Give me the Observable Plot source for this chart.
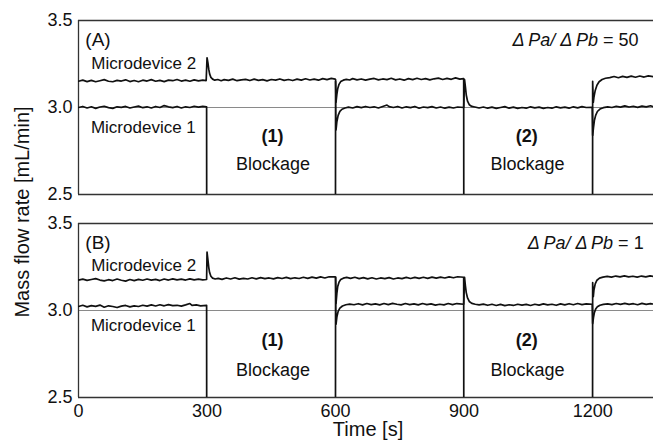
<!DOCTYPE html>
<html>
<head>
<meta charset="utf-8">
<script src="https://cdn.jsdelivr.net/npm/d3@7"></script>
<script src="https://cdn.jsdelivr.net/npm/@observablehq/plot@0.6"></script>
<style>
  html, body { margin: 0; padding: 0; background: #fff; }
  #chart { width: 653px; height: 447px; }
</style>
</head>
<body>
<div id="chart"></div>
<script>
// ---- data (time [s], mass flow rate [mL/min]); 0 = blocked (no flow, clipped at axis) ----
const panels = ["A", "B"];
const panelTags = ["(A)", "(B)"];
const ratioLabels = ["Δ\u2009Pa/ Δ\u2009Pb = 50", "Δ\u2009Pa/ Δ\u2009Pb = 1"];
const deviceNames = ["Microdevice 1", "Microdevice 2"];
const blockTags = ["(1)", "(2)"];
const blockWord = "Blockage";
const xTicks = [0, 300, 600, 900, 1200];
const yTicks = [2.5, 3.0, 3.5];
const gridValue = [3.0];

// Panel A, Microdevice 2
const a2 = [[0,3.151],[10,3.157],[20,3.149],[30,3.156],[40,3.148],[50,3.154],[60,3.160],[70,3.151],[80,3.148],[90,3.156],[100,3.152],[110,3.159],[120,3.149],[130,3.155],[140,3.148],[150,3.157],[160,3.152],[170,3.160],[180,3.151],[190,3.156],[200,3.149],[210,3.157],[220,3.154],[230,3.161],[240,3.152],[250,3.157],[260,3.151],[270,3.159],[280,3.153],[290,3.157],[298,3.155],
[300,3.286],[302,3.258],[304,3.220],[306,3.193],[309,3.173],[313,3.163],[318,3.157],
[325,3.161],[333,3.154],[340,3.160],[350,3.156],[360,3.163],[370,3.154],[380,3.159],[390,3.162],[400,3.155],[410,3.163],[420,3.156],[430,3.160],[440,3.153],[450,3.161],[460,3.157],[470,3.164],[480,3.156],[490,3.161],[500,3.155],[510,3.163],[520,3.157],[530,3.165],[540,3.158],[550,3.163],[560,3.157],[570,3.166],[580,3.160],[590,3.167],[599,3.163],
[600,3.160],[601,3.030],[603,3.075],[605,3.108],[608,3.133],[612,3.149],[618,3.157],
[625,3.162],[633,3.158],[640,3.166],[650,3.159],[660,3.164],[670,3.157],[680,3.163],[690,3.167],[700,3.159],[710,3.164],[720,3.160],[730,3.168],[740,3.159],[750,3.164],[760,3.157],[770,3.166],[780,3.160],[790,3.168],[800,3.161],[810,3.166],[820,3.159],[830,3.165],[840,3.169],[850,3.161],[860,3.167],[870,3.162],[880,3.170],[890,3.163],[899,3.166],
[900,0],[1199,0],
[1200,3.150],[1201.5,3.030],[1203,3.060],[1206,3.098],[1210,3.128],[1215,3.148],[1222,3.161],[1230,3.168],
[1240,3.172],[1250,3.178],[1260,3.171],[1270,3.179],[1280,3.173],[1290,3.180],[1300,3.174],[1310,3.181],[1320,3.175],[1330,3.182],[1342,3.177]];

// Panel A, Microdevice 1
const a1 = [[0,3.000],[10,3.006],[20,2.997],[30,3.004],[40,2.995],[50,3.003],[60,3.007],[70,2.999],[80,2.995],[90,3.004],[100,3.001],[110,3.006],[120,2.997],[130,3.003],[140,3.008],[150,2.999],[160,3.004],[170,2.997],[180,3.006],[190,3.000],[200,3.011],[210,3.004],[220,2.999],[230,3.006],[240,2.997],[250,3.004],[260,3.000],[270,3.007],[280,3.002],[290,3.006],[299,3.004],
[300,0],[599,0],
[600,3.150],[601,2.870],[603,2.918],[606,2.955],[610,2.978],[615,2.990],[622,2.997],
[630,3.002],[640,2.997],[650,3.005],[660,2.999],[670,3.006],[680,3.000],[690,3.004],[700,2.997],[710,3.006],[720,3.014],[725,3.005],[735,3.000],[745,3.006],[755,2.997],[765,3.004],[775,2.999],[785,3.006],[795,2.996],[805,3.003],[815,2.999],[825,3.005],[835,2.997],[845,3.003],[855,2.996],[865,3.002],[875,2.997],[885,3.003],[899,3.000],
[901,3.160],[903,3.118],[905,3.072],[908,3.036],[912,3.016],[918,3.006],
[925,3.003],[935,2.997],[945,3.003],[955,2.996],[965,3.002],[975,2.995],[985,3.000],[995,3.005],[1005,2.996],[1015,3.002],[1025,2.995],[1035,3.000],[1045,2.996],[1055,3.004],[1065,2.998],[1075,3.002],[1085,2.995],[1095,3.000],[1105,2.996],[1115,3.004],[1125,2.998],[1135,3.002],[1145,2.996],[1155,3.004],[1165,2.998],[1175,3.005],[1185,3.000],[1199,3.001],
[1200,2.840],[1202,2.885],[1204,2.925],[1207,2.955],[1211,2.977],[1217,2.991],[1225,2.999],
[1235,3.004],[1245,3.000],[1255,3.007],[1265,3.002],[1275,3.009],[1285,3.003],[1295,3.007],[1305,3.001],[1315,3.008],[1325,3.004],[1335,3.010],[1342,3.004]];

// Panel B, Microdevice 2
const b2 = [[0,3.175],[10,3.180],[20,3.173],[30,3.178],[40,3.183],[50,3.175],[60,3.170],[70,3.177],[80,3.172],[90,3.181],[100,3.174],[110,3.169],[120,3.178],[130,3.172],[140,3.179],[150,3.174],[160,3.181],[170,3.175],[180,3.179],[190,3.172],[200,3.181],[210,3.175],[220,3.182],[230,3.176],[240,3.180],[250,3.175],[260,3.182],[270,3.176],[280,3.180],[290,3.176],[299,3.178],
[300,3.335],[302,3.292],[304,3.248],[306,3.218],[309,3.197],[313,3.186],[319,3.181],
[326,3.185],[335,3.179],[345,3.187],[355,3.181],[365,3.188],[375,3.180],[385,3.185],[395,3.181],[405,3.188],[415,3.182],[425,3.189],[435,3.183],[445,3.187],[455,3.182],[465,3.189],[475,3.184],[485,3.190],[495,3.183],[505,3.188],[515,3.184],[525,3.191],[535,3.185],[545,3.192],[555,3.186],[565,3.193],[575,3.187],[585,3.194],[599,3.193],
[600,3.192],[601,3.040],[603,3.098],[605,3.138],[608,3.163],[612,3.178],[618,3.186],
[626,3.190],[635,3.185],[645,3.191],[655,3.183],[665,3.189],[675,3.182],[685,3.188],[695,3.181],[705,3.187],[715,3.183],[725,3.189],[735,3.181],[745,3.187],[755,3.183],[765,3.190],[775,3.184],[785,3.190],[795,3.185],[805,3.191],[815,3.185],[825,3.192],[835,3.186],[845,3.192],[855,3.187],[865,3.193],[875,3.188],[885,3.194],[899,3.191],
[900,0],[1199,0],
[1200,3.160],[1201.5,3.080],[1203,3.118],[1206,3.153],[1210,3.174],[1216,3.186],[1224,3.192],
[1234,3.196],[1244,3.192],[1254,3.198],[1264,3.193],[1274,3.199],[1284,3.193],[1294,3.197],[1304,3.192],[1314,3.198],[1324,3.193],[1334,3.199],[1342,3.195]];

// Panel B, Microdevice 1
const b1 = [[0,3.023],[10,3.030],[20,3.021],[30,3.028],[40,3.024],[50,3.031],[60,3.019],[70,3.027],[80,3.023],[90,3.017],[100,3.025],[110,3.029],[120,3.021],[130,3.027],[140,3.023],[150,3.030],[160,3.025],[170,3.032],[180,3.026],[190,3.033],[200,3.027],[210,3.034],[220,3.028],[230,3.030],[240,3.025],[250,3.032],[260,3.040],[265,3.029],[275,3.032],[285,3.027],[299,3.030],
[300,0],[599,0],
[600,3.190],[601,2.920],[603,2.962],[606,2.995],[610,3.014],[616,3.026],[624,3.033],
[633,3.037],[643,3.033],[653,3.039],[663,3.032],[673,3.040],[683,3.034],[693,3.038],[703,3.032],[713,3.040],[723,3.034],[733,3.041],[743,3.036],[753,3.032],[763,3.040],[773,3.034],[783,3.038],[793,3.032],[803,3.040],[813,3.034],[823,3.038],[833,3.031],[843,3.036],[853,3.032],[863,3.040],[873,3.034],[883,3.040],[899,3.036],
[901,3.190],[903,3.142],[905,3.103],[908,3.072],[912,3.052],[918,3.041],[926,3.036],
[935,3.032],[945,3.037],[955,3.030],[965,3.036],[975,3.029],[985,3.035],[995,3.028],[1005,3.033],[1015,3.029],[1025,3.036],[1035,3.031],[1045,3.035],[1055,3.029],[1065,3.036],[1075,3.031],[1085,3.038],[1095,3.032],[1105,3.036],[1115,3.030],[1125,3.038],[1135,3.032],[1145,3.039],[1155,3.033],[1165,3.040],[1175,3.034],[1185,3.038],[1199,3.036],
[1200,2.925],[1202,2.960],[1204,2.988],[1207,3.008],[1211,3.021],[1217,3.030],[1225,3.035],
[1235,3.038],[1245,3.034],[1255,3.040],[1265,3.035],[1275,3.041],[1285,3.035],[1295,3.039],[1305,3.033],[1315,3.041],[1325,3.035],[1335,3.039],[1342,3.037]];

// ---- build table ----
function toRows(panel, device, pts) {
  return pts.map(([t, v]) => ({panel, device, t, v}));
}
const rows = [
  ...toRows("A", deviceNames[1], a2), ...toRows("A", deviceNames[0], a1),
  ...toRows("B", deviceNames[1], b2), ...toRows("B", deviceNames[0], b1)
];

const FONT = "'Liberation Sans', Arial, Helvetica, sans-serif";
const INK = "#111";

const svg = Plot.plot({
  width: 653,
  height: 447,
  marginLeft: 78,
  marginRight: 0,
  marginTop: 20,
  marginBottom: 50,
  style: {fontFamily: FONT, fontSize: "18px", background: "#fff", color: INK},
  x: {domain: [0, 1342]},
  y: {domain: [2.5, 3.5]},
  fy: {domain: panels, paddingInner: 29 / 203, paddingOuter: 0, round: false, axis: null},
  marks: [
    Plot.ruleY(gridValue, {stroke: "#8a8a8a", strokeWidth: 1}),
    Plot.ruleY([2.5, 3.5], {stroke: "#333", strokeWidth: 1.3}),
    Plot.ruleX([0], {stroke: "#333", strokeWidth: 1.3}),
    Plot.line(rows, {x: "t", y: "v", z: "device", fy: "panel", stroke: INK, strokeWidth: 1.7, clip: true, curve: "linear"}),
    Plot.axisY({ticks: yTicks, tickSize: 0, tickPadding: 6, tickFormat: d => d.toFixed(1), fontSize: 18, label: null}),
    Plot.axisX({ticks: xTicks, tickSize: 0, tickPadding: 7, tickFormat: d => String(d), fontSize: 18, label: null}),
    // panel tags
    Plot.text(panelTags, {x: () => 16, y: () => 3.39, fy: (d, i) => panels[i], text: d => d, textAnchor: "start", fontSize: 19}),
    // ratio labels
    Plot.text(ratioLabels, {x: (d, i) => [1307, 1319][i], y: () => 3.385, fy: (d, i) => panels[i], text: d => d, textAnchor: "end", fontSize: 18}),
    // microdevice labels
    Plot.text(panels, {x: () => 30, y: (d, i) => [3.253, 3.259][i], fy: d => d, text: () => deviceNames[1], textAnchor: "start", fontSize: 17}),
    Plot.text(panels, {x: () => 29, y: (d, i) => [2.883, 2.914][i], fy: d => d, text: () => deviceNames[0], textAnchor: "start", fontSize: 17}),
    // blockage tags
    Plot.text(panels, {x: () => 453, y: (d, i) => [2.833, 2.829][i], fy: d => d, text: () => blockTags[0], fontWeight: "bold", fontSize: 18}),
    Plot.text(panels, {x: () => 1046, y: (d, i) => [2.833, 2.829][i], fy: d => d, text: () => blockTags[1], fontWeight: "bold", fontSize: 18}),
    Plot.text(panels, {x: () => 454, y: (d, i) => [2.672, 2.655][i], fy: d => d, text: () => blockWord, fontSize: 18}),
    Plot.text(panels, {x: () => 1048, y: (d, i) => [2.672, 2.655][i], fy: d => d, text: () => blockWord, fontSize: 18})
  ]
});

// ratio labels: italic quantity, upright "= value"
svg.querySelectorAll("text").forEach(el => {
  const s = el.textContent;
  if (s.startsWith("Δ")) {
    const k = s.indexOf(" = ");
    const ital = s.slice(0, k), rest = s.slice(k);
    while (el.firstChild) el.removeChild(el.firstChild);
    const ns = "http://www.w3.org/2000/svg";
    const t1 = document.createElementNS(ns, "tspan");
    t1.setAttribute("font-style", "italic");
    t1.textContent = ital;
    const t2 = document.createElementNS(ns, "tspan");
    t2.textContent = rest;
    el.appendChild(t1); el.appendChild(t2);
  }
});

// axis titles
const s = d3.select(svg);
s.append("text")
  .attr("transform", "translate(22,212) rotate(-90)")
  .attr("text-anchor", "middle")
  .attr("dominant-baseline", "central")
  .attr("font-size", 20)
  .attr("fill", INK)
  .text("Mass flow rate [mL/min]");
s.append("text")
  .attr("x", 368)
  .attr("y", 436)
  .attr("text-anchor", "middle")
  .attr("font-size", 20)
  .attr("fill", INK)
  .text("Time [s]");

document.getElementById("chart").appendChild(svg);
</script>
</body>
</html>
